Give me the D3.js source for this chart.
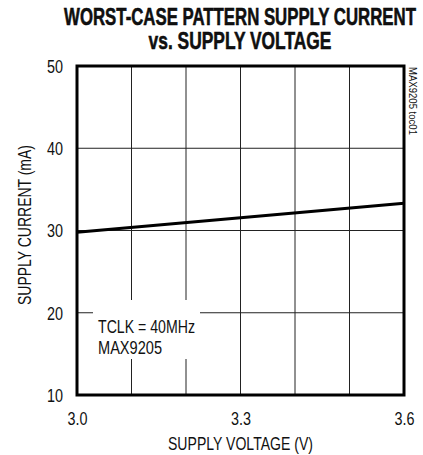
<!DOCTYPE html>
<html>
<head>
<meta charset="utf-8">
<script src="https://cdn.jsdelivr.net/npm/d3@7"></script>
<style>
  body { margin: 0; background: #fff; }
  svg text { font-family: "Liberation Sans", Arial, sans-serif; fill: #111; }
</style>
</head>
<body>
<svg width="423" height="455"></svg>
<script>
const voltage = [3.0, 3.6];
const current = [29.8, 33.3];
const xTicks = [3.0, 3.1, 3.2, 3.3, 3.4, 3.5, 3.6];
const xLabels = ["3.0", "3.3", "3.6"];
const yTicks = [10, 20, 30, 40, 50];

const svg = d3.select("svg");
const mLeft = 77, mRight = 404, mTop = 66, mBottom = 395;

const x = d3.scaleLinear().domain([3.0, 3.6]).range([mLeft, mRight]);
const y = d3.scaleLinear().domain([10, 50]).range([mBottom, mTop]);

// squeeze text to a narrow look
const squeeze = (sel, w) => sel.attr("textLength", w).attr("lengthAdjust", "spacingAndGlyphs");

// title: scaled horizontally so its real box is narrow too
function titleLine(str, cx, cy, w) {
  const g = svg.append("g");
  const t = g.append("text")
    .attr("text-anchor", "middle")
    .attr("font-size", 23).attr("font-weight", "bold")
    .attr("fill", "#000").attr("stroke", "#000").attr("stroke-width", 0.5)
    .text(str);
  const k = w / t.node().getComputedTextLength();
  g.attr("transform", `translate(${cx},${cy}) scale(${k},1)`);
}
titleLine("WORST-CASE PATTERN SUPPLY CURRENT", 240, 25, 352);
titleLine("vs. SUPPLY VOLTAGE", 240, 49, 183);

// grid
const grid = svg.append("g").attr("stroke", "#222").attr("stroke-width", 1);
grid.selectAll("line.v")
  .data(xTicks.slice(1, -1))
  .join("line")
  .attr("class", "v")
  .attr("x1", d => x(d)).attr("x2", d => x(d))
  .attr("y1", mTop).attr("y2", mBottom);
grid.selectAll("line.h")
  .data(yTicks.slice(1, -1))
  .join("line")
  .attr("class", "h")
  .attr("x1", mLeft).attr("x2", mRight)
  .attr("y1", d => y(d)).attr("y2", d => y(d));

// annotation background
svg.append("rect")
  .attr("x", 93).attr("y", 300)
  .attr("width", 107).attr("height", 59)
  .attr("fill", "#fff");
svg.append("text")
  .attr("x", 98).attr("y", 333)
  .attr("font-size", 18)
  .text("TCLK = 40MHz")
  .call(squeeze, 97);
svg.append("text")
  .attr("x", 98).attr("y", 354)
  .attr("font-size", 18)
  .text("MAX9205")
  .call(squeeze, 64);

// data line
svg.append("path")
  .datum(voltage.map((v, i) => [v, current[i]]))
  .attr("fill", "none")
  .attr("stroke", "#000")
  .attr("stroke-width", 3)
  .attr("d", d3.line().x(d => x(d[0])).y(d => y(d[1])));

// frame
svg.append("rect")
  .attr("x", mLeft).attr("y", mTop)
  .attr("width", mRight - mLeft).attr("height", mBottom - mTop)
  .attr("fill", "none")
  .attr("stroke", "#000")
  .attr("stroke-width", 3);

// axes labels
const xAxis = d3.axisBottom(x).tickValues(xLabels.map(Number)).tickFormat(d3.format(".1f")).tickSize(0).tickPadding(0);
svg.append("g")
  .attr("transform", `translate(0,${mBottom})`)
  .call(xAxis)
  .call(g => g.select(".domain").remove())
  .call(g => g.selectAll("text")
    .attr("font-size", 18).attr("font-family", null).attr("fill", "#111")
    .attr("dy", null).attr("y", 30)
    .call(squeeze, 20));

const yAxis = d3.axisLeft(y).tickValues(yTicks).tickSize(0).tickPadding(0);
svg.append("g")
  .attr("transform", `translate(${mLeft - 14},0)`)
  .call(yAxis)
  .call(g => g.select(".domain").remove())
  .call(g => g.selectAll("text")
    .attr("font-size", 18).attr("font-family", null).attr("fill", "#111")
    .attr("x", 0).attr("dy", "0.36em")
    .call(squeeze, 16));

svg.append("text")
  .attr("x", 240.5).attr("y", 450)
  .attr("text-anchor", "middle")
  .attr("font-size", 18)
  .text("SUPPLY VOLTAGE (V)")
  .call(squeeze, 145);

svg.append("text")
  .attr("transform", `translate(31,225) rotate(-90)`)
  .attr("text-anchor", "middle")
  .attr("font-size", 18)
  .text("SUPPLY CURRENT (mA)")
  .call(squeeze, 160);

svg.append("text")
  .attr("transform", `translate(409,67) rotate(90)`)
  .attr("font-size", 10)
  .text("MAX9205 toc01")
  .call(squeeze, 68);
</script>
</body>
</html>
